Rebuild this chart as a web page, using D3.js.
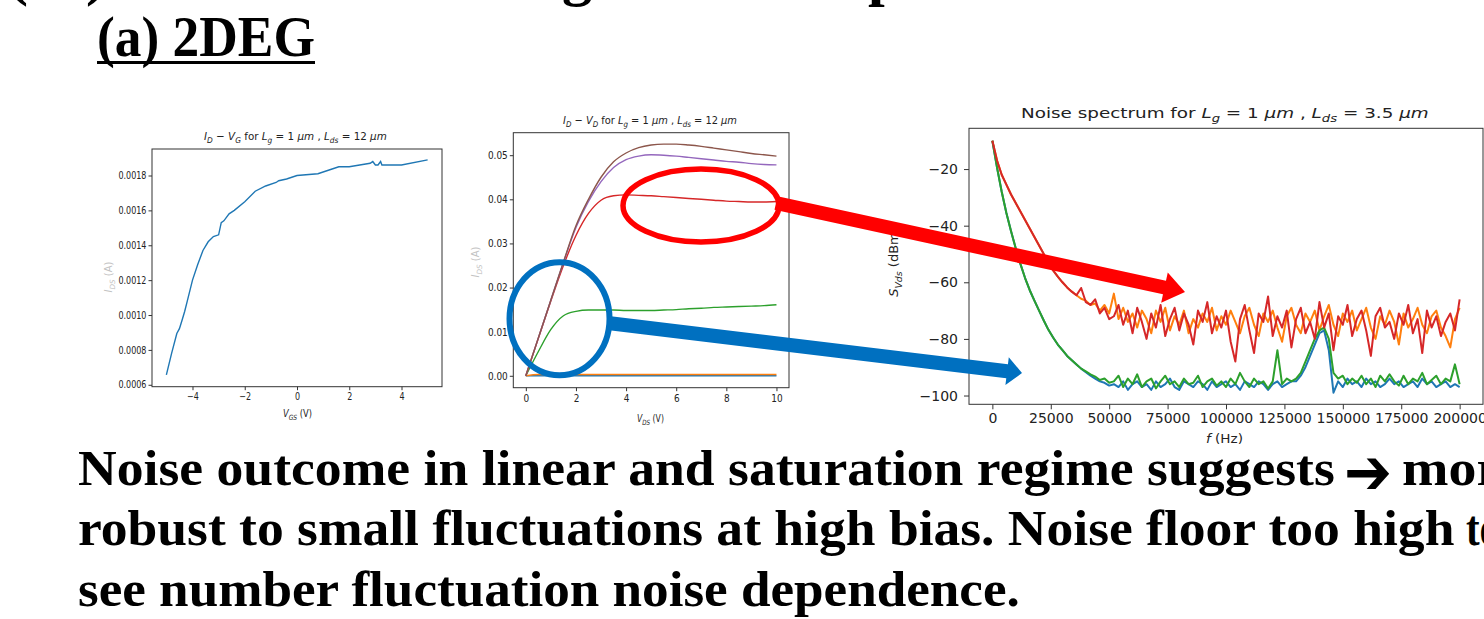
<!DOCTYPE html>
<html>
<head>
<meta charset="utf-8">
<script src="https://cdn.jsdelivr.net/npm/d3@7"></script>
<style>
body { margin: 0; background: #fff; }
svg { display: block; }
.axis text { fill: #222; font-family: "DejaVu Sans"; }
.axis line { stroke: #333; }
</style>
</head>
<body>
<div id="slide"></div>
<script>
// ---- data ----

// I_D - V_G sweep (left plot)
const ivgV = [-5, -4.8, -4.6, -4.5, -4.4, -4.3, -4.2, -4.0, -3.8, -3.6, -3.4, -3.2, -3.0, -2.9, -2.8, -2.6, -2.4,
  -2.0, -1.6, -1.2, -0.8, -0.7, -0.4, 0, 0.8, 1.2, 1.6, 2.0, 2.4, 2.8, 2.9, 3.0, 3.1, 3.2, 3.25, 4.0, 5.0];
const ivgI = [0.000657, 0.00078, 0.000894, 0.000922, 0.00097, 0.00102, 0.00108, 0.0012, 0.00129, 0.00137, 0.00142,
  0.00145, 0.00146, 0.00153, 0.00154, 0.00158, 0.0016, 0.00165, 0.00171, 0.00174, 0.00176, 0.00177, 0.00178,
  0.0018, 0.00181, 0.00183, 0.00185, 0.00185, 0.00186, 0.00187, 0.00188, 0.00186, 0.00186, 0.00188, 0.00186,
  0.00186, 0.00189];
const ivgXTicks = [-4, -2, 0, 2, 4];
const ivgYTicks = [0.0006, 0.0008, 0.0010, 0.0012, 0.0014, 0.0016, 0.0018];

// I_D - V_D sweeps (middle plot), one array per gate bias
const ivdV = [0, 0.5, 1, 1.5, 2, 2.5, 3, 3.5, 4, 4.5, 5, 5.5, 6, 6.5, 7, 7.5, 8, 8.5, 9, 9.5, 10];
const ivdBlue = [0, 0, 0, 0, 0, 0, 0, 0, 0, 0, 0, 0, 0, 0, 0, 0, 0, 0, 0, 0, 0];
const ivdOrange = [0, 0.0003, 0.0003, 0.0003, 0.0003, 0.0003, 0.0003, 0.0003, 0.0003, 0.0003, 0.0003, 0.0003,
  0.0003, 0.0003, 0.0003, 0.0003, 0.0003, 0.0003, 0.0003, 0.0003, 0.0003];
const ivdGreen = [0, 0.0055, 0.0105, 0.0136, 0.0146, 0.0149, 0.0149, 0.0149, 0.0148, 0.0148, 0.0148, 0.0149,
  0.0150, 0.0152, 0.0153, 0.0155, 0.0156, 0.0157, 0.0158, 0.0159, 0.0161];
const ivdRed = [0, 0.0085, 0.017, 0.025, 0.0318, 0.0368, 0.0398, 0.0408, 0.0410, 0.0409, 0.0408, 0.0406,
  0.0404, 0.0402, 0.0400, 0.0398, 0.0396, 0.0395, 0.0394, 0.0394, 0.0395];
const ivdPurple = [0, 0.0086, 0.0172, 0.0257, 0.0336, 0.0395, 0.0440, 0.0472, 0.0490, 0.0498, 0.0501, 0.0500,
  0.0498, 0.0495, 0.0492, 0.0489, 0.0486, 0.0484, 0.0481, 0.0479, 0.0478];
const ivdBrown = [0, 0.0086, 0.0172, 0.0258, 0.034, 0.040, 0.045, 0.0485, 0.0505, 0.0517, 0.0523, 0.0525,
  0.0525, 0.0523, 0.0520, 0.0516, 0.0512, 0.0508, 0.0504, 0.0501, 0.0498];
const ivdXTicks = [0, 2, 4, 6, 8, 10];
const ivdYTicks = [0, 0.01, 0.02, 0.03, 0.04, 0.05];

// noise spectra (right plot), sampled every 2 kHz from 0 to 200 kHz
const freqHz = d3.range(0, 200001, 2000);
const noiseBlue = [-10, -19.5, -28, -35.5, -42, -48, -53.5, -58.5, -62.8, -66.5, -70, -73.5, -76.8, -79.5, -82,
  -84, -86, -87.5, -89, -90.5, -91.8, -93, -94, -95, -95.5, -96.5,
  -96, -97, -95, -98, -96, -95, -97, -96, -98, -95, -97, -96, -94, -97, -98, -95, -96, -97, -95, -96, -98, -95,
  -97, -96, -95, -97, -96, -98, -95, -96, -97, -95, -96, -98, -96, -95, -97, -96, -95, -95, -93, -90, -86, -82,
  -78, -77, -84, -99, -95, -97, -94, -96, -95, -97, -94, -96, -95, -97, -96, -94, -96, -95, -97, -96, -95, -97,
  -94, -96, -95, -97, -96, -95, -97, -96, -97];
const noiseOrange = [-10, -17, -22, -25.5, -29, -32, -35, -38, -41, -44, -47, -50, -53, -55.8, -58, -60, -61.8,
  -63.3, -64.6, -65.8, -66.5, -68, -67.5, -70, -68, -71,
  -64, -73, -69, -74, -71, -76, -70, -73, -78, -70, -74, -69, -77, -72, -75, -70, -78, -73, -76, -71, -74, -69,
  -77, -72, -75, -70, -74, -78, -72, -69, -75, -79, -71, -74, -70, -76, -81, -72, -69, -75, -78, -71, -74, -70,
  -77, -72, -68, -75, -79, -71, -74, -70, -77, -73, -69, -76, -80, -72, -75, -70, -74, -82, -71, -76, -73, -69,
  -75, -78, -72, -70, -76, -79, -83, -73, -69];
const noiseGreen = [-10, -19.5, -28, -35.5, -42, -48, -53.5, -58.5, -62.8, -66.5, -70, -73.5, -76.8, -79.5, -82,
  -84, -86, -87.5, -89, -90.5, -91.5, -92.5, -93.3, -94.5, -94, -95.5,
  -95, -93, -97, -94, -96, -92.5, -97, -95, -94, -97.5, -95, -93, -96, -95, -97, -94, -96, -95.5, -93, -97, -95,
  -94, -96.5, -95, -97, -94, -96, -92, -95, -97, -94, -96, -95, -97.5, -95, -84, -96, -94, -95, -94, -92, -88, -84,
  -80, -77, -76, -80, -92, -94, -93, -96, -94, -95.5, -93, -96, -94, -97, -93, -95, -92.5, -95, -96.5, -93, -96,
  -94, -95, -92, -96, -94.5, -93, -96, -94, -95, -89, -96];
const noiseRed = [-10, -17, -22, -25.5, -29, -32, -35, -38, -41, -44, -47, -50, -53, -55.8, -58, -60, -61.8,
  -63.3, -64.6, -62, -67, -68, -66, -71, -69, -73,
  -72, -68, -75, -70, -78, -69, -74, -80, -71, -76, -68, -79, -73, -69, -77, -71, -75, -82, -70, -74, -67, -78,
  -72, -76, -70, -81, -88, -73, -68, -77, -85, -71, -74, -65, -79, -72, -76, -70, -83, -73, -69, -78, -74, -80,
  -67, -76, -71, -84, -72, -75, -68, -79, -73, -70, -77, -86, -72, -69, -76, -74, -80, -71, -75, -68, -78, -73,
  -85, -70, -76, -72, -79, -74, -71, -77, -66];
const noiseXTicks = [0, 25000, 50000, 75000, 100000, 125000, 150000, 175000, 200000];
const noiseYTicks = [-100, -80, -60, -40, -20];

const paraLines = [
  "Noise outcome in linear and saturation regime suggests",
  "robust to small fluctuations at high bias. Noise floor too high",
  "see number fluctuation noise dependence."
];

const tab = {
  blue: "#1f77b4", orange: "#ff7f0e", green: "#2ca02c",
  red: "#d62728", purple: "#9467bd", brown: "#8c564b"
};

const svg = d3.select("#slide").append("svg")
  .attr("width", 1484)
  .attr("height", 619);

svg.append("rect").attr("width", 1484).attr("height", 619).attr("fill", "#fff");

// text with italics and subscripts, built from [string, style] pairs
function richText(parent, segs, size) {
  const t = parent.append("text")
    .attr("font-family", "DejaVu Sans")
    .attr("font-size", size)
    .attr("fill", "#222");
  let shift = 0;
  segs.forEach(([str, st]) => {
    const sub = st === "s" || st === "su";
    const target = sub ? size * 0.3 : 0;
    t.append("tspan")
      .text(str)
      .attr("dy", target - shift)
      .attr("font-size", sub ? size * 0.72 : size)
      .attr("font-style", (st === "i" || st === "s") ? "italic" : "normal");
    shift = target;
  });
  return t;
}

// squeeze a text group so it spans x0..x1 on baseline y
function fitInto(g, x0, x1, y) {
  const b = g.node().getBBox();
  const k = (x1 - x0) / b.width;
  g.attr("transform", `translate(${x0 - b.x * k}, ${y}) scale(${k}, 1)`);
}

function frame(x0, x1, y0, y1) {
  svg.append("rect")
    .attr("x", x0).attr("y", y0)
    .attr("width", x1 - x0).attr("height", y1 - y0)
    .attr("fill", "none")
    .attr("stroke", "#333")
    .attr("stroke-width", 1);
}

function squeezeTicks(axisG, sx) {
  axisG.selectAll("text").attr("transform", `scale(${sx}, 1)`);
  axisG.select(".domain").remove();
}

// ---------------- left plot: I_D - V_G ----------------
const x1s = d3.scaleLinear().domain([-5.55, 5.55]).range([152, 442]);
const y1s = d3.scaleLinear().domain([0.000589, 0.001952]).range([386.7, 149]);
frame(152, 442, 149, 386.7);

const ax1 = svg.append("g").attr("class", "axis")
  .attr("transform", "translate(0, 386.7)")
  .call(d3.axisBottom(x1s).tickValues(ivgXTicks).tickSize(3.5).tickPadding(3));
ax1.selectAll("text").attr("font-size", 10);
squeezeTicks(ax1, 0.8);

const ay1 = svg.append("g").attr("class", "axis")
  .attr("transform", "translate(152, 0)")
  .call(d3.axisLeft(y1s).tickValues(ivgYTicks).tickFormat(d3.format(".4f")).tickSize(3.5).tickPadding(3.5));
ay1.selectAll("text").attr("font-size", 10);
squeezeTicks(ay1, 0.8);

svg.append("path")
  .datum(ivgV.map((v, i) => [v, ivgI[i]]))
  .attr("fill", "none")
  .attr("stroke", tab.blue)
  .attr("stroke-width", 1.4)
  .attr("d", d3.line().x(d => x1s(d[0])).y(d => y1s(d[1])));

const t1 = svg.append("g");
richText(t1, [["I", "i"], ["D", "s"], [" − ", ""], ["V", "i"], ["G", "s"], [" for ", ""], ["L", "i"], ["g", "s"],
  [" = 1 ", ""], ["μm", "i"], [" , ", ""], ["L", "i"], ["ds", "s"], [" = 12 ", ""], ["μm", "i"]], 11);
fitInto(t1, 204, 387, 140);

const xl1 = svg.append("g");
richText(xl1, [["V", "i"], ["GS", "s"], [" (V)", ""]], 10);
fitInto(xl1, 283, 312, 417);

const yl1 = svg.append("g").attr("transform", "translate(112, 277) rotate(-90)");
richText(yl1, [["I", "i"], ["DS", "s"], [" (A)", ""]], 10)
  .attr("text-anchor", "middle").attr("fill", "#aaa").attr("opacity", 0.7);

// ---------------- middle plot: I_D - V_D ----------------
const x2s = d3.scaleLinear().domain([-0.5, 10.5]).range([513.3, 789]);
const y2s = d3.scaleLinear().domain([-0.0027, 0.0551]).range([387.7, 132.7]);
frame(513.3, 789, 132.7, 387.7);

const ax2 = svg.append("g").attr("class", "axis")
  .attr("transform", "translate(0, 387.7)")
  .call(d3.axisBottom(x2s).tickValues(ivdXTicks).tickSize(3.5).tickPadding(3));
ax2.selectAll("text").attr("font-size", 10.5);
squeezeTicks(ax2, 0.85);

const ay2 = svg.append("g").attr("class", "axis")
  .attr("transform", "translate(513.3, 0)")
  .call(d3.axisLeft(y2s).tickValues(ivdYTicks).tickFormat(d3.format(".2f")).tickSize(3.5).tickPadding(3));
ay2.selectAll("text").attr("font-size", 10.5);
squeezeTicks(ay2, 0.85);

const ivdSeries = [
  [ivdBlue, tab.blue], [ivdOrange, tab.orange], [ivdGreen, tab.green],
  [ivdRed, tab.red], [ivdPurple, tab.purple], [ivdBrown, tab.brown]
];
const line2 = d3.line().x(d => x2s(d[0])).y(d => y2s(d[1])).curve(d3.curveMonotoneX);
ivdSeries.forEach(([vals, col]) => {
  svg.append("path")
    .datum(ivdV.map((v, i) => [v, vals[i]]))
    .attr("fill", "none")
    .attr("stroke", col)
    .attr("stroke-width", 1.4)
    .attr("d", line2);
});

const t2 = svg.append("g");
richText(t2, [["I", "i"], ["D", "s"], [" − ", ""], ["V", "i"], ["D", "s"], [" for ", ""], ["L", "i"], ["g", "s"],
  [" = 1 ", ""], ["μm", "i"], [" , ", ""], ["L", "i"], ["ds", "s"], [" = 12 ", ""], ["μm", "i"]], 11);
fitInto(t2, 563, 737, 124);

const xl2 = svg.append("g");
richText(xl2, [["V", "i"], ["DS", "s"], [" (V)", ""]], 10);
fitInto(xl2, 637, 664, 422);

const yl2 = svg.append("g").attr("transform", "translate(479, 262) rotate(-90)");
richText(yl2, [["I", "i"], ["DS", "s"], [" (A)", ""]], 10)
  .attr("text-anchor", "middle").attr("fill", "#aaa").attr("opacity", 0.7);

// ---------------- right plot: noise spectrum ----------------
const x3s = d3.scaleLinear().domain([-10000, 210000]).range([969, 1483]);
const y3s = d3.scaleLinear().domain([-103.1, -5.6]).range([404.3, 128.3]);
frame(969, 1483, 128.3, 404.3);

const ax3 = svg.append("g").attr("class", "axis")
  .attr("transform", "translate(0, 404.3)")
  .call(d3.axisBottom(x3s).tickValues(noiseXTicks).tickFormat(d3.format("d")).tickSize(5).tickPadding(4));
ax3.selectAll("text").attr("font-size", 14);
ax3.select(".domain").remove();

const ay3 = svg.append("g").attr("class", "axis")
  .attr("transform", "translate(969, 0)")
  .call(d3.axisLeft(y3s).tickValues(noiseYTicks).tickFormat(d3.format("d")).tickSize(5).tickPadding(6));
ay3.selectAll("text").attr("font-size", 14);
ay3.select(".domain").remove();

const line3 = d3.line().x(d => x3s(d[0])).y(d => y3s(d[1]));
[[noiseBlue, tab.blue], [noiseOrange, tab.orange], [noiseGreen, tab.green], [noiseRed, tab.red]]
  .forEach(([vals, col]) => {
    const pts = freqHz.map((f, i) => [f, vals[i]]).filter(d => d[1] !== undefined);
    svg.append("path")
      .datum(pts)
      .attr("fill", "none")
      .attr("stroke", col)
      .attr("stroke-width", 2)
      .attr("stroke-linejoin", "round")
      .attr("d", line3);
  });

const t3 = svg.append("g");
richText(t3, [["Noise spectrum for ", ""], ["L", "i"], ["g", "s"], [" = 1 ", ""], ["μm", "i"], [" , ", ""],
  ["L", "i"], ["ds", "s"], [" = 3.5 ", ""], ["μm", "i"]], 14);
fitInto(t3, 1021, 1429, 118);

const xl3 = svg.append("g");
richText(xl3, [["f", "i"], [" (Hz)", ""]], 13);
fitInto(xl3, 1206, 1243, 443);

const yl3 = svg.append("g").attr("transform", "translate(898, 262) rotate(-90)");
richText(yl3, [["S", "i"], ["V", "s"], ["ds", "s"], ["  (dBm)", ""]], 13).attr("text-anchor", "middle");

// ---------------- annotations ----------------
function arrowPath(x0, y0, x1, y1, w, hl, hw) {
  const L = Math.hypot(x1 - x0, y1 - y0);
  const ux = (x1 - x0) / L, uy = (y1 - y0) / L;
  const nx = -uy, ny = ux;
  const bx = x1 - ux * hl, by = y1 - uy * hl;
  const pts = [
    [x0 + nx * w / 2, y0 + ny * w / 2], [bx + nx * w / 2, by + ny * w / 2], [bx + nx * hw / 2, by + ny * hw / 2],
    [x1, y1],
    [bx - nx * hw / 2, by - ny * hw / 2], [bx - nx * w / 2, by - ny * w / 2], [x0 - nx * w / 2, y0 - ny * w / 2]
  ];
  return "M" + pts.map(p => p.join(",")).join("L") + "Z";
}

svg.append("ellipse")
  .attr("cx", 701).attr("cy", 205.5).attr("rx", 78).attr("ry", 36.5)
  .attr("fill", "none").attr("stroke", "#ff0000").attr("stroke-width", 5.5);
svg.append("path")
  .attr("d", arrowPath(776, 203, 1185, 292, 14, 21, 31))
  .attr("fill", "#ff0000");

svg.append("ellipse")
  .attr("cx", 559.5).attr("cy", 318.8).attr("rx", 50).attr("ry", 56.5)
  .attr("fill", "none").attr("stroke", "#0070c0").attr("stroke-width", 6);
svg.append("path")
  .attr("d", arrowPath(608, 323, 1022, 373, 14, 15, 28))
  .attr("fill", "#0070c0");

// ---------------- slide text ----------------
const serif = "Liberation Serif";

// bottoms of the cut-off heading above
[["(", 8], [")", 86], ["g", 562], ["p", 868]].forEach(([ch, x]) => {
  svg.append("text").attr("x", x).attr("y", -6)
    .attr("font-family", serif).attr("font-weight", "bold").attr("font-size", 60)
    .text(ch);
});

const head = svg.append("g");
head.append("text")
  .attr("font-family", serif).attr("font-weight", "bold").attr("font-size", 56)
  .text("(a) 2DEG");
fitInto(head, 97, 315, 56);
svg.append("rect").attr("x", 97).attr("y", 61).attr("width", 218).attr("height", 3).attr("fill", "#000");

const paraSpans = [[78, 1335, 485], [78, 1455, 545], [78, 1020, 606]];
paraLines.forEach((s, i) => {
  const g = svg.append("g");
  g.append("text")
    .attr("font-family", serif).attr("font-weight", "bold").attr("font-size", 51)
    .text(s);
  fitInto(g, paraSpans[i][0], paraSpans[i][1], paraSpans[i][2]);
});

// heavy arrow glyph between "suggests" and "more"
const arrowG = svg.append("g");
arrowG.append("text")
  .attr("font-family", "DejaVu Sans").attr("font-weight", "bold").attr("font-size", 64)
  .text("➔");
fitInto(arrowG, 1344, 1392, 494);

const more = svg.append("g");
more.append("text").attr("font-family", serif).attr("font-weight", "bold").attr("font-size", 51).text("more");
fitInto(more, 1402, 1525, 485);
const to = svg.append("g");
to.append("text").attr("font-family", serif).attr("font-weight", "bold").attr("font-size", 51).text("to");
fitInto(to, 1466, 1500, 545);
</script>
</body>
</html>
